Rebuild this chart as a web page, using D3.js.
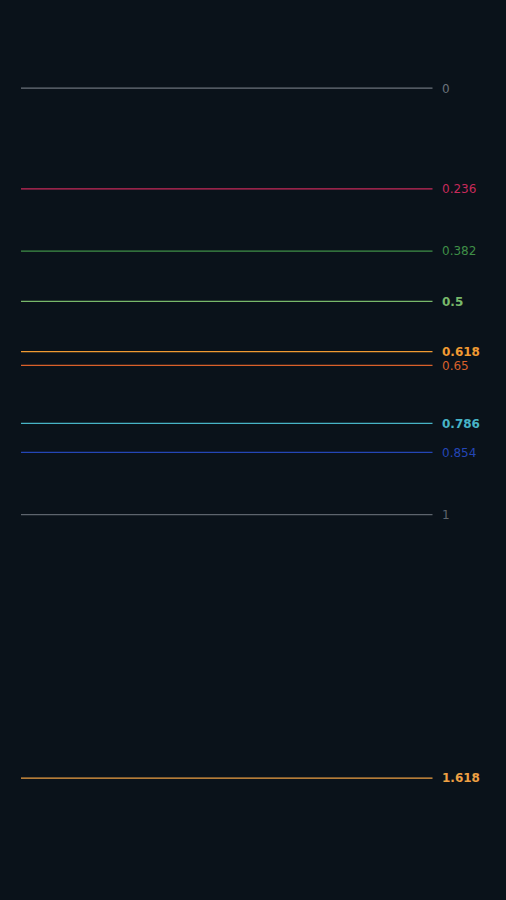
<!DOCTYPE html>
<html><head><meta charset="utf-8">
<script src="https://cdn.jsdelivr.net/npm/d3@7"></script>
<style>html,body{margin:0;padding:0;background:#0a121a;}svg{display:block;}</style>
</head><body>
<script>
const levels = [0, 0.236, 0.382, 0.5, 0.618, 0.65, 0.786, 0.854, 1, 1.618];
const labels = ["0", "0.236", "0.382", "0.5", "0.618", "0.65", "0.786", "0.854", "1", "1.618"];
const colors = ["#6b727b", "#c72a5a", "#3f8f47", "#78b86a", "#f09a32", "#d9602a", "#47b4c6", "#2446b6", "#5d646d", "#eea043"];
const bold = [false, false, false, true, true, false, true, false, false, true];

const W = 506, H = 900;
const svg = d3.select("body").append("svg").attr("width", W).attr("height", H);
svg.append("rect").attr("width", W).attr("height", H).attr("fill", "#0a121a");
const y = d3.scaleLinear().domain([0, 1]).range([88.2, 514.6]);
const x = d3.scaleLinear().domain([0, 1]).range([21, 432.5]);

const g = svg.append("g");
g.selectAll("line").data(levels).join("line")
  .attr("x1", x(0)).attr("x2", x(1))
  .attr("y1", d => y(d)).attr("y2", d => y(d))
  .attr("stroke", (d, i) => colors[i]).attr("stroke-width", 1.2);
g.selectAll("text").data(levels).join("text")
  .attr("x", 442).attr("y", d => y(d))
  .attr("dy", "0.36em")
  .attr("fill", (d, i) => colors[i])
  .attr("font-family", "'DejaVu Sans', sans-serif")
  .attr("font-size", 12)
  .attr("font-weight", (d, i) => bold[i] ? "bold" : "normal")
  .text((d, i) => labels[i]);
</script>
</body></html>
